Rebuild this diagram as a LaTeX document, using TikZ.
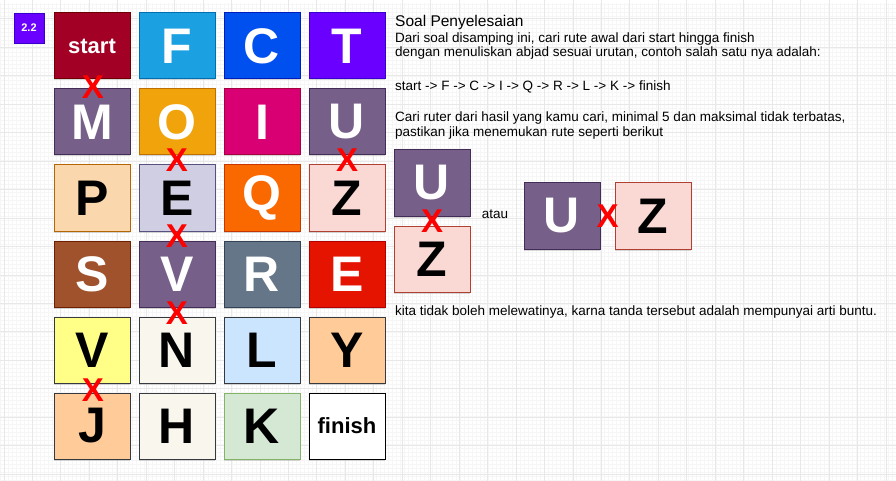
\documentclass[tikz,border=0pt]{standalone}
\usepackage{fontspec}
\setmainfont{Liberation Sans}
\usetikzlibrary{positioning,calc,shadows}
\definecolor{gridminor}{RGB}{246,246,246}
\definecolor{gridmajor}{RGB}{232,232,232}
\definecolor{xred}{RGB}{255,0,0}
\definecolor{crimson}{RGB}{162,0,37}
\definecolor{crimsonline}{RGB}{111,0,0}
\definecolor{sky}{RGB}{27,161,226}
\definecolor{skyline}{RGB}{0,110,175}
\definecolor{cobalt}{RGB}{0,80,239}
\definecolor{cobaltline}{RGB}{0,29,188}
\definecolor{indigo}{RGB}{106,0,255}
\definecolor{indigoline}{RGB}{55,0,204}
\definecolor{mauve}{RGB}{118,96,138}
\definecolor{mauveline}{RGB}{67,45,87}
\definecolor{amber}{RGB}{240,163,10}
\definecolor{amberline}{RGB}{189,112,0}
\definecolor{magenta}{RGB}{216,0,115}
\definecolor{magentaline}{RGB}{165,0,64}
\definecolor{peach}{RGB}{250,215,172}
\definecolor{peachline}{RGB}{180,101,4}
\definecolor{lavender}{RGB}{208,206,226}
\definecolor{lavenderline}{RGB}{86,81,126}
\definecolor{tangerine}{RGB}{250,104,0}
\definecolor{tangerineline}{RGB}{199,53,0}
\definecolor{rose}{RGB}{250,217,213}
\definecolor{roseline}{RGB}{174,65,50}
\definecolor{sienna}{RGB}{160,82,45}
\definecolor{siennaline}{RGB}{109,31,0}
\definecolor{steel}{RGB}{100,118,135}
\definecolor{steelline}{RGB}{49,67,84}
\definecolor{scarlet}{RGB}{229,20,0}
\definecolor{scarletline}{RGB}{178,0,0}
\definecolor{lemon}{RGB}{255,255,136}
\definecolor{lemonline}{RGB}{54,57,61}
\definecolor{cream}{RGB}{249,247,237}
\definecolor{creamline}{RGB}{54,57,61}
\definecolor{ice}{RGB}{204,229,255}
\definecolor{iceline}{RGB}{54,57,61}
\definecolor{apricot}{RGB}{255,204,153}
\definecolor{apricotline}{RGB}{54,57,61}
\definecolor{mint}{RGB}{213,232,212}
\definecolor{mintline}{RGB}{130,179,102}
\definecolor{paper}{RGB}{255,255,255}
\definecolor{paperline}{RGB}{0,0,0}
\tikzset{
  tile/.style={draw=#1line,fill=#1,line width=1pt,minimum width=76pt,minimum height=66pt,inner sep=0pt,outer sep=0pt,font=\fontsize{50}{50}\selectfont\bfseries,drop shadow={shadow xshift=0pt,shadow yshift=-1.5pt,opacity=0.3}},
  dtile/.style={tile=#1,text=white},
  word/.style={font=\fontsize{22}{22}\selectfont\bfseries},
  cross/.style={text=xred,inner sep=0pt,font=\fontsize{33}{33}\selectfont\bfseries},
  note/.style={anchor=base west,inner sep=0pt,font=\fontsize{13.5}{15}\selectfont},
  badge/.style={draw=indigoline,fill=indigo,text=white,minimum size=30pt,inner sep=0pt,font=\fontsize{11}{11}\selectfont\bfseries}
}
\begin{document}
\begin{tikzpicture}[x=1pt,y=-1pt,node distance=10pt and 9pt]
  \useasboundingbox (0,0) rectangle (896,481);
  \fill[white] (0,0) rectangle (896,481);
  \draw[gridminor,line width=0.6pt,step=4pt] (0,3) grid (896,481);
  \draw[gridmajor,line width=1pt,shift={(4,19)}] (-4,-19) grid (892,462);

  \node[badge] (num) at (29,28) {2.2};

  % maze
  \node[dtile=crimson,word] (start) at (92,46) {start};
  \node[dtile=sky,right=of start] (F) {F};
  \node[dtile=cobalt,right=of F] (C) {C};
  \node[dtile=indigo,right=of C] (T) {T};

  \node[dtile=mauve,below=of start] (M) {M};
  \node[dtile=amber,right=of M] (O) {O};
  \node[dtile=magenta,right=of O] (I) {I};
  \node[dtile=mauve,right=of I] (U) {U};

  \node[tile=peach,below=of M] (P) {P};
  \node[tile=lavender,right=of P] (E1) {E};
  \node[dtile=tangerine,right=of E1] (Q) {Q};
  \node[tile=rose,right=of Q] (Z) {Z};

  \node[dtile=sienna,below=of P] (S) {S};
  \node[dtile=mauve,right=of S] (V1) {V};
  \node[dtile=steel,right=of V1] (R) {R};
  \node[dtile=scarlet,right=of R] (E2) {E};

  \node[tile=lemon,below=of S] (V2) {V};
  \node[tile=cream,right=of V2] (N) {N};
  \node[tile=ice,right=of N] (L) {L};
  \node[tile=apricot,right=of L] (Y) {Y};

  \node[tile=apricot,below=of V2] (J) {J};
  \node[tile=cream,right=of J] (H) {H};
  \node[tile=mint,right=of H] (K) {K};
  \node[tile=paper,word,right=of K] (finish) {finish};

  % dead ends
  \node[cross] (x1) at ($(start.south)!0.5!(M.north)+(1,3)$) {X};
  \node[cross] (x2) at ($(O.south)!0.5!(E1.north)$) {X};
  \node[cross] (x3) at ($(U.south)!0.5!(Z.north)$) {X};
  \node[cross] (x4) at ($(E1.south)!0.5!(V1.north)$) {X};
  \node[cross] (x5) at ($(V1.south)!0.5!(N.north)+(0,1)$) {X};
  \node[cross] (x6) at ($(V2.south)!0.5!(J.north)+(1,2)$) {X};

  % explanation
  \node[note,font=\fontsize{15.5}{17}\selectfont] (title) at (395,27) {Soal Penyelesaian};
  \node[note] (line1) at (395,43) {Dari soal disamping ini, cari rute awal dari start hingga finish};
  \node[note] (line2) at (395,57) {dengan menuliskan abjad sesuai urutan, contoh salah satu nya adalah:};
  \node[note] (route) at (395,91) {start -> F -> C -> I -> Q -> R -> L -> K -> finish};
  \node[note] (line3) at (395,122) {Cari ruter dari hasil yang kamu cari, minimal 5 dan maksimal tidak terbatas,};
  \node[note] (line4) at (395,137) {pastikan jika menemukan rute seperti berikut};

  \node[dtile=mauve] (exU) at (432,183) {U};
  \node[tile=rose,below=of exU] (exZ) {Z};
  \node[cross] (exX) at ($(exU.south)!0.5!(exZ.north)$) {X};
  \node[note,anchor=center] (atau) at (495,214) {atau};
  \node[dtile=mauve] (sideU) at (562,216) {U};
  \node[tile=rose,right=15pt of sideU] (sideZ) {Z};
  \node[cross] (sideX) at ($(sideU.east)!0.5!(sideZ.west)$) {X};

  \node[note] (line5) at (395,315) {kita tidak boleh melewatinya, karna tanda tersebut adalah mempunyai arti buntu.};
\end{tikzpicture}
\end{document}
